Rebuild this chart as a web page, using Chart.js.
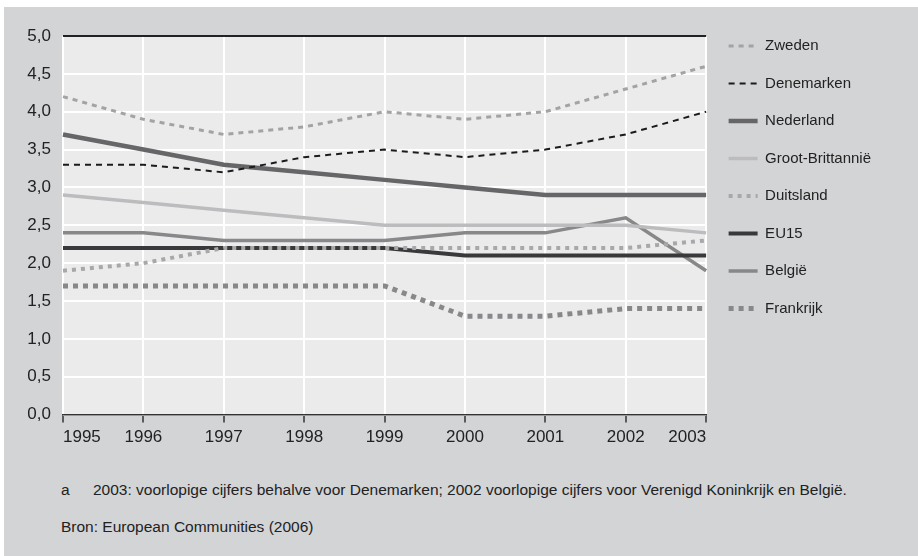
<!DOCTYPE html>
<html>
<head>
<meta charset="utf-8">
<script src="https://cdn.jsdelivr.net/npm/chart.js@4.4.1/dist/chart.umd.min.js"></script>
<style>
  html, body { margin: 0; padding: 0; background: #fff; }
  #panel { position: absolute; left: 4px; top: 7px; width: 914px; height: 549px; background: #d3d4d6; }
  #wrap { position: absolute; left: 0; top: 0; width: 914px; height: 446px; }
  .note { position: absolute; left: 57px; font-family: 'Liberation Sans', Arial, sans-serif;
          font-size: 15.5px; line-height: 20px; color: #222; white-space: nowrap; }
  .note .mark { display: inline-block; width: 32px; }
</style>
</head>
<body>
<div id="panel">
  <div id="wrap"><canvas id="chart"></canvas></div>
  <div class="note" style="top:473px"><span class="mark">a</span>2003: voorlopige cijfers behalve voor Denemarken; 2002 voorlopige cijfers voor Verenigd Koninkrijk en België.</div>
  <div class="note" style="top:510px">Bron: European Communities (2006)</div>
</div>
<script>
// years on the x axis
const years = ['1995', '1996', '1997', '1998', '1999', '2000', '2001', '2002', '2003'];

// values per country
const zweden      = [4.2, 3.9, 3.7, 3.8, 4.0, 3.9, 4.0, 4.3, 4.6];
const denemarken  = [3.3, 3.3, 3.2, 3.4, 3.5, 3.4, 3.5, 3.7, 4.0];
const nederland   = [3.7, 3.5, 3.3, 3.2, 3.1, 3.0, 2.9, 2.9, 2.9];
const grootBrit   = [2.9, 2.8, 2.7, 2.6, 2.5, 2.5, 2.5, 2.5, 2.4];
const duitsland   = [1.9, 2.0, 2.2, 2.2, 2.2, 2.2, 2.2, 2.2, 2.3];
const eu15        = [2.2, 2.2, 2.2, 2.2, 2.2, 2.1, 2.1, 2.1, 2.1];
const belgie      = [2.4, 2.4, 2.3, 2.3, 2.3, 2.4, 2.4, 2.6, 1.9];
const frankrijk   = [1.7, 1.7, 1.7, 1.7, 1.7, 1.3, 1.3, 1.4, 1.4];

const font = "'Liberation Sans', Arial, sans-serif";

function series(label, data, color, width, dash) {
  return {
    label: label,
    data: data,
    borderColor: color,
    backgroundColor: color,
    borderWidth: width,
    borderDash: dash || [],
    borderCapStyle: 'butt',
    pointRadius: 0,
    pointHoverRadius: 0,
    tension: 0,
    fill: false
  };
}

// paints the grey plot background behind the grid
const plotBackground = {
  id: 'plotBackground',
  beforeDraw(chart) {
    const a = chart.chartArea;
    const ctx = chart.ctx;
    ctx.save();
    ctx.fillStyle = '#ebebec';
    ctx.fillRect(a.left, a.top, a.right - a.left, a.bottom - a.top);
    ctx.restore();
  }
};

const ctx = document.getElementById('chart').getContext('2d');
new Chart(ctx, {
  type: 'line',
  data: {
    labels: years,
    datasets: [
      series('Zweden', zweden, '#a3a3a5', 3, [5, 5]),
      series('Denemarken', denemarken, '#1b1b1b', 2, [6, 5]),
      series('Nederland', nederland, '#666668', 4.5),
      series('Groot-Brittannië', grootBrit, '#bcbcbe', 3.5),
      series('Duitsland', duitsland, '#a8a8aa', 4, [4, 5]),
      series('EU15', eu15, '#39393b', 4),
      series('België', belgie, '#88888a', 3.5),
      series('Frankrijk', frankrijk, '#88888a', 5, [5, 5])
    ]
  },
  options: {
    responsive: true,
    maintainAspectRatio: false,
    animation: false,
    layout: { padding: { top: 9, right: 37, bottom: 0, left: 0 } },
    plugins: {
      title: {
        display: true,
        text: '',
        position: 'top',
        fullSize: false,
        font: { size: 10, lineHeight: 1 },
        padding: { top: 0, bottom: 10 }
      },
      tooltip: { enabled: false },
      legend: {
        position: 'right',
        align: 'start',
        labels: {
          usePointStyle: true,
          pointStyle: 'line',
          pointStyleWidth: 29,
          padding: 22.5,
          color: '#222',
          font: { family: font, size: 15 },
          // legend samples use the dataset line style
          generateLabels: (chart) => chart.data.datasets.map((ds, i) => ({
            text: ds.label,
            datasetIndex: i,
            fillStyle: ds.borderColor,
            strokeStyle: ds.borderColor,
            fontColor: '#222',
            lineWidth: ds.borderWidth,
            lineDash: ds.borderDash,
            lineCap: 'butt',
            pointStyle: 'line',
            hidden: false
          }))
        }
      }
    },
    scales: {
      x: {
        grid: {
          color: '#ffffff',
          lineWidth: 2,
          drawTicks: true,
          tickLength: 8,
          tickColor: '#333',
          tickWidth: 1.5
        },
        border: { display: true, color: '#333', width: 1.5 },
        ticks: {
          align: 'inner',
          padding: 5,
          maxRotation: 0,
          color: '#222',
          font: { family: font, size: 17 }
        }
      },
      y: {
        min: 0,
        max: 5,
        afterFit(scale) { scale.width = 59; },
        grid: {
          drawTicks: false,
          lineWidth: 2,
          color: (c) => (c.tick && c.tick.value === 5 ? '#222' : '#ffffff')
        },
        border: { display: false },
        ticks: {
          stepSize: 0.5,
          padding: 12,
          color: '#222',
          font: { family: font, size: 17 },
          callback: (v) => v.toFixed(1).replace('.', ',')
        }
      }
    }
  },
  plugins: [plotBackground]
});
</script>
</body>
</html>
